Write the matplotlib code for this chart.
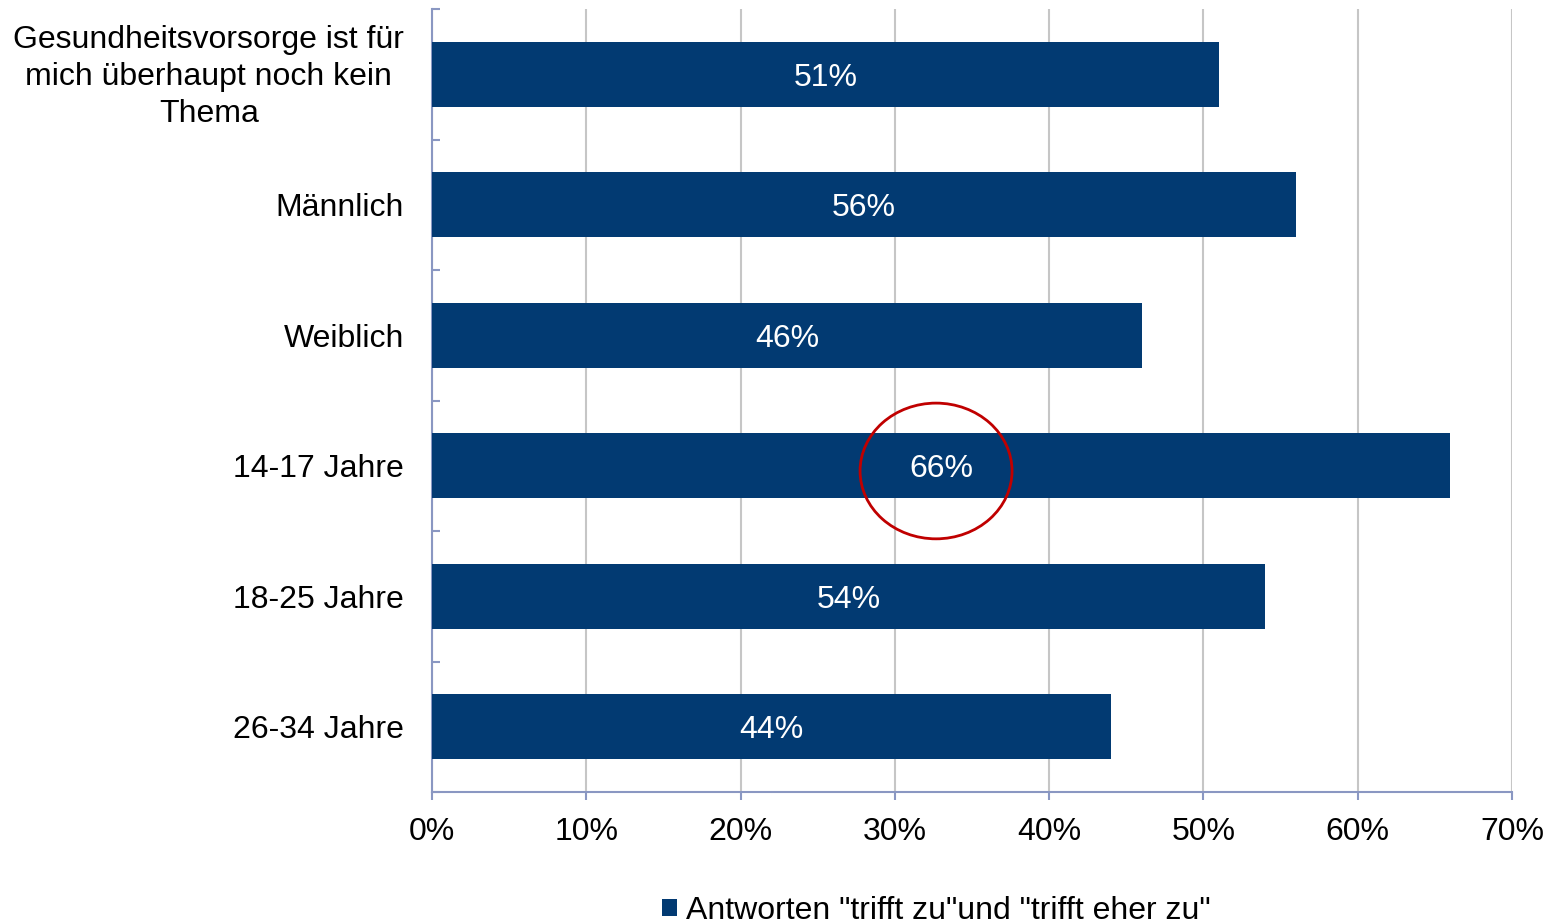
import matplotlib
matplotlib.use("Agg")
import matplotlib.pyplot as plt
from matplotlib.patches import Ellipse, Patch
from matplotlib.ticker import FixedLocator

plt.rcParams['font.family'] = ['Liberation Sans', 'DejaVu Sans']

categories = ["Gesundheitsvorsorge ist für\nmich überhaupt noch kein\nThema",
              "Männlich", "Weiblich", "14-17 Jahre", "18-25 Jahre", "26-34 Jahre"]
values = [51, 56, 46, 66, 54, 44]
xticks = [0, 10, 20, 30, 40, 50, 60, 70]
xtick_labels = ["0%", "10%", "20%", "30%", "40%", "50%", "60%", "70%"]
series_name = 'Antworten "trifft zu"und "trifft eher zu"'

bar_color = '#023a72'
axis_color = '#8a97c2'
fs = 23

fig = plt.figure(figsize=(15.55, 9.24), dpi=100)
ax = fig.add_axes([432/1555, 1-792/924, 1080/1555, 783/924])

pos = list(range(len(categories)))
bars = ax.barh(pos, values, height=0.5, color=bar_color, zorder=3)
for p, v in zip(pos, values):
    ax.text(v/2, p, f"{v}%", color='white', ha='center', va='center_baseline', fontsize=fs, zorder=4)

ax.set_xlim(0, 70)
ax.set_ylim(len(categories)-0.5, -0.5)
ax.set_xticks(xticks)
ax.set_xticklabels(xtick_labels, fontsize=fs)
ax.set_yticks(pos)
# multi-line first label drawn separately for precise placement
ax.set_yticklabels([""] + categories[1:], fontsize=fs)
ax.annotate(categories[0], xy=(0, pos[0]), xycoords=('axes fraction', 'data'),
            xytext=(-20, -2), textcoords='offset points', ha='right', va='center',
            multialignment='center', linespacing=1.3, fontsize=fs)

ax.yaxis.set_minor_locator(FixedLocator([i - 0.5 for i in range(len(categories)+1)]))
ax.tick_params(axis='y', which='major', length=0, pad=20)
ax.tick_params(axis='y', which='minor', direction='in', length=6, color=axis_color, width=1.5)
ax.tick_params(axis='x', which='major', direction='out', length=6, color=axis_color, width=1.5, pad=12)

ax.grid(axis='x', color='#c6c6c6', linewidth=1.5, zorder=0)
ax.set_axisbelow(True)
for s in ['top', 'right']:
    ax.spines[s].set_visible(False)
for s in ['left', 'bottom']:
    ax.spines[s].set_color(axis_color)
    ax.spines[s].set_linewidth(1.5)

# red highlight circle
ell = Ellipse((32.67, 3.04), width=9.85, height=1.04, fill=False, edgecolor='#c00000', linewidth=2, zorder=5)
ax.add_patch(ell)

fig.legend(handles=[Patch(facecolor=bar_color, edgecolor='none', label=series_name)],
           loc='center', bbox_to_anchor=(936.5/1555, 1-911/924), frameon=False, fontsize=fs,
           handlelength=0.45, handleheight=0.45, handletextpad=0.3, borderpad=0, borderaxespad=0)

fig.savefig("out.png", dpi=100)
